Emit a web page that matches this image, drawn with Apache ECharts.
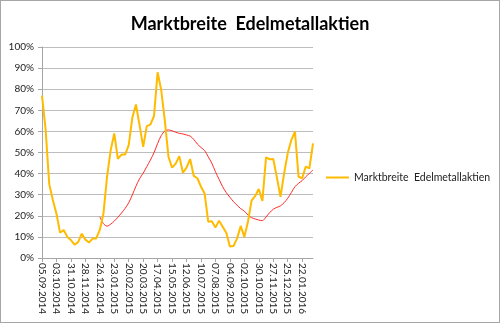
<!DOCTYPE html>
<html>
<head>
<meta charset="utf-8">
<script src="https://cdn.jsdelivr.net/npm/echarts@6/dist/echarts.min.js"></script>
<style>
  html, body { margin: 0; padding: 0; background: #fff; }
  #frame { position: absolute; left: 0; top: 0; width: 500px; height: 323px; box-sizing: border-box; border: 1px solid #a6a6a6; }
  #chart { position: absolute; left: 0; top: 0; width: 500px; height: 323px; }
</style>
</head>
<body>
<div id="chart"></div>
<div id="frame"></div>
<script>
// Weekly dates (Fridays)
const dates = [
  '05.09.2014','12.09.2014','19.09.2014','26.09.2014','03.10.2014','10.10.2014','17.10.2014','24.10.2014',
  '31.10.2014','07.11.2014','14.11.2014','21.11.2014','28.11.2014','05.12.2014','12.12.2014','19.12.2014',
  '26.12.2014','02.01.2015','09.01.2015','16.01.2015','23.01.2015','30.01.2015','06.02.2015','13.02.2015',
  '20.02.2015','27.02.2015','06.03.2015','13.03.2015','20.03.2015','27.03.2015','03.04.2015','10.04.2015',
  '17.04.2015','24.04.2015','01.05.2015','08.05.2015','15.05.2015','22.05.2015','29.05.2015','05.06.2015',
  '12.06.2015','19.06.2015','26.06.2015','03.07.2015','10.07.2015','17.07.2015','24.07.2015','31.07.2015',
  '07.08.2015','14.08.2015','21.08.2015','28.08.2015','04.09.2015','11.09.2015','18.09.2015','25.09.2015',
  '02.10.2015','09.10.2015','16.10.2015','23.10.2015','30.10.2015','06.11.2015','13.11.2015','20.11.2015',
  '27.11.2015','04.12.2015','11.12.2015','18.12.2015','25.12.2015','01.01.2016','08.01.2016','15.01.2016',
  '22.01.2016','29.01.2016','05.02.2016','12.02.2016'
];

// Share of precious-metal stocks above their trend, in percent
const breadth = [
  77, 61, 35, 27.5, 21, 12, 13.3, 10,
  8.5, 6.3, 7.5, 11.5, 8.7, 7.3, 9.2, 9.3,
  13.3, 21, 38.5, 51, 59, 47, 49, 49,
  53.5, 66.5, 72.8, 63, 52.7, 62.5, 63.2, 67.3,
  88, 79.5, 65, 48, 42.8, 44.7, 48.3, 40.4,
  42.8, 46.9, 38.9, 37.8, 33.8, 30.6, 17.2, 17.4,
  14.4, 17.7, 14.8, 12, 5.4, 5.7, 9.3, 15.2,
  10, 17.2, 27.2, 29.4, 32.7, 27, 47.7, 46.8,
  46.9, 38.2, 29, 40, 49.6, 55.9, 59.9, 38.5,
  37.8, 43.3, 42.5, 54.3
];

// Smoothed average of the breadth line (starts at 26.12.2014)
const average = [
  '-', '-', '-', '-', '-', '-', '-', '-',
  '-', '-', '-', '-', '-', '-', '-', '-',
  19.5, 16.3, 15.1, 16.0, 17.5, 19.3, 21.3, 23.5,
  26.2, 29.9, 34, 37.6, 40.2, 43.3, 46.4, 49.9,
  54.3, 58, 60.2, 60.7, 60.3, 59.6, 59.1, 58.8,
  58.3, 57.8, 56.2, 54, 52.4, 50.9, 48, 44.9,
  40.9, 37.3, 33.8, 31, 28.8, 26.7, 25, 23.4,
  22.2, 20.4, 19.1, 18.5, 18, 17.7, 19.4, 21.5,
  23.1, 24, 24.7, 26.2, 28.3, 31, 33.8, 35.4,
  36.7, 38.5, 40.1, 41.7
];

const seriesName = 'Marktbreite  Edelmetallaktien';
const font = 'Lato, "Open Sans", sans-serif';

const chart = echarts.init(document.getElementById('chart'), null, { renderer: 'canvas' });
chart.setOption({
  animation: false,
  backgroundColor: '#ffffff',
  title: {
    text: 'Marktbreite  Edelmetallaktien',
    left: 'center',
    top: 10,
    textStyle: { fontFamily: font, fontSize: 18, fontWeight: 'bold', color: '#000' }
  },
  legend: {
    data: [{ name: seriesName, icon: 'rect' }],
    left: 326,
    top: 172,
    padding: 0,
    itemWidth: 23,
    itemHeight: 2,
    itemGap: 0,
    textStyle: { fontFamily: font, fontSize: 10.5, color: '#222' }
  },
  grid: { left: 42, right: 187, top: 47, bottom: 65, containLabel: false },
  xAxis: {
    type: 'category',
    data: dates,
    boundaryGap: false,
    axisLine: { lineStyle: { color: '#a6a6a6', width: 1 } },
    axisTick: { show: true, interval: 3, length: 4, lineStyle: { color: '#a6a6a6' } },
    axisLabel: {
      interval: 3,
      rotate: -90,
      fontFamily: font,
      fontSize: 10,
      color: '#222',
      margin: 5
    },
    splitLine: { show: false }
  },
  yAxis: {
    type: 'value',
    min: 0,
    max: 100,
    interval: 10,
    axisLine: { show: true, lineStyle: { color: '#a6a6a6', width: 1 } },
    axisTick: { show: true, length: 4, lineStyle: { color: '#a6a6a6' } },
    axisLabel: { formatter: '{value}%', fontFamily: font, fontSize: 10, color: '#222', margin: 8 },
    splitLine: { lineStyle: { color: '#bdbdbd', width: 1 } }
  },
  series: [
    {
      name: seriesName,
      type: 'line',
      data: breadth,
      symbol: 'none',
      lineStyle: { color: '#ffbb00', width: 2 },
      itemStyle: { color: '#ffbb00' },
      z: 3
    },
    {
      name: 'Durchschnitt',
      type: 'line',
      data: average,
      symbol: 'none',
      smooth: 0.3,
      lineStyle: { color: '#ff2a2a', width: 1 },
      itemStyle: { color: '#ff2a2a' },
      z: 2
    }
  ]
});
</script>
</body>
</html>
